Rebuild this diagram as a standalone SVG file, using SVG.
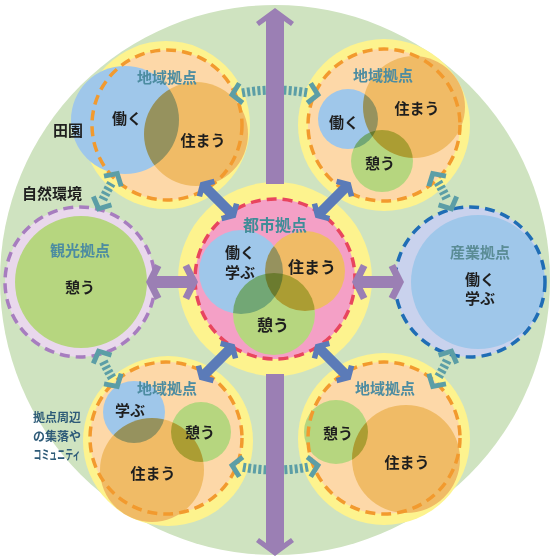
<svg xmlns="http://www.w3.org/2000/svg" width="550" height="559" viewBox="0 0 550 559">
<defs>
<style>
text{font-family:"Noto Sans CJK JP","Noto Sans CJK SC",sans-serif;font-weight:700;text-anchor:middle}
.t{fill:#4c8ca1;font-size:15px}
.tc{fill:#3f8d98;font-size:16px}
.l{fill:#1e1e1e;font-size:15px}
.lc{fill:#1e1e1e;font-size:16px}
.s{fill:#2e5b78;font-size:12px}
.ring{fill:#fdf38e}
.area{fill:#fdd8a8}
.dash{fill:none;stroke:#f29a2e;stroke-width:3.5;stroke-dasharray:10 6}
.b{fill:#9fc7ea}
.o{fill:#f0bb66}
.g{fill:#b6d67f}
.mix{isolation:isolate}
.mix circle{mix-blend-mode:multiply}
.dot{fill:none;stroke:#5c9ea6;stroke-width:9;stroke-dasharray:3 2.2;marker-start:url(#chev);marker-end:url(#chev)}
.ba{fill:#5b7bb8}
.pa{fill:#9b7fb4}
</style>
<marker id="chev" markerUnits="userSpaceOnUse" markerWidth="30" markerHeight="30" viewBox="-5 -15 30 30" refX="0" refY="0" orient="auto-start-reverse" overflow="visible">
<path d="M 1 -10 L 10 0 L 1 10" fill="none" stroke="#5c9ea6" stroke-width="5"/>
</marker>
<path id="blueArrow" d="M -15.7 -5 L 15.7 -5 L 13.3 -9.2 L 18 -12 L 25 0 L 18 12 L 13.3 9.2 L 15.7 5 L -15.7 5 L -13.3 9.2 L -18 12 L -25 0 L -18 -12 L -13.3 -9.2 Z"/>
<path id="purpleArrow" d="M -15.2 -6 L 15.2 -6 L 10.7 -14.9 L 17 -18 L 26 0 L 17 18 L 10.7 14.9 L 15.2 6 L -15.2 6 L -10.7 14.9 L -17 18 L -26 0 L -17 -18 L -10.7 -14.9 Z"/>
</defs>

<g id="background">
<circle cx="275" cy="280" r="275" fill="#cfe3c0"/>
</g>

<g id="node-top-left">
<circle class="ring" cx="166" cy="125" r="84"/>
<circle class="area" cx="167" cy="125" r="75"/>
<g class="mix">
<circle class="b" cx="125" cy="120" r="54"/>
<circle class="o" cx="196" cy="134" r="52"/>
</g>
<circle class="dash" cx="167" cy="125" r="75"/>
<text class="t" x="167" y="82.5">地域拠点</text>
<text class="l" x="127" y="123.5">働く</text>
<text class="l" x="203" y="145.5">住まう</text>
</g>

<g id="node-top-right">
<circle class="ring" cx="384" cy="125" r="86"/>
<circle class="area" cx="384" cy="125" r="76"/>
<g class="mix">
<circle class="b" cx="348" cy="119" r="30"/>
<circle class="o" cx="414" cy="107" r="51"/>
<circle class="g" cx="382" cy="161" r="31"/>
</g>
<circle class="dash" cx="384" cy="125" r="76"/>
<text class="t" x="383" y="80.5">地域拠点</text>
<text class="l" x="344" y="127.5">働く</text>
<text class="l" x="417" y="113.5">住まう</text>
<text class="l" x="380" y="168.5">憩う</text>
</g>

<g id="node-left">
<circle cx="80" cy="282" r="75" fill="#e9d8ec"/>
<circle class="g" cx="81" cy="282" r="66"/>
<circle cx="80" cy="282" r="75" fill="none" stroke="#a77dbf" stroke-width="3.5" stroke-dasharray="10 6"/>
<text class="t" x="80" y="255.5">観光拠点</text>
<text class="l" x="80" y="292.5">憩う</text>
</g>

<g id="node-right">
<circle cx="470" cy="282" r="75" fill="#c9d2ed"/>
<circle class="b" cx="478" cy="282" r="67"/>
<circle cx="470" cy="282" r="75" fill="none" stroke="#1f6db5" stroke-width="3.5" stroke-dasharray="10 6"/>
<text class="t" x="480" y="257.5" style="fill:#5a8c95">産業拠点</text>
<text class="l" x="480" y="285">働く</text>
<text class="l" x="480" y="304">学ぶ</text>
</g>

<g id="node-bottom-left">
<circle class="ring" cx="168" cy="441" r="85"/>
<circle class="area" cx="166" cy="438" r="76"/>
<g class="mix">
<circle class="b" cx="134" cy="412" r="31"/>
<circle class="g" cx="201" cy="432" r="30"/>
<circle class="o" cx="152" cy="470" r="52"/>
</g>
<circle class="dash" cx="166" cy="438" r="76"/>
<text class="t" x="167" y="393.5">地域拠点</text>
<text class="l" x="130" y="415.5">学ぶ</text>
<text class="l" x="200" y="437.5">憩う</text>
<text class="l" x="153" y="478.5">住まう</text>
</g>

<g id="node-bottom-right">
<circle class="ring" cx="384" cy="439" r="86"/>
<circle class="area" cx="384" cy="438" r="76"/>
<g class="mix">
<circle class="g" cx="336" cy="432" r="32"/>
<circle class="o" cx="406" cy="459" r="54"/>
</g>
<circle class="dash" cx="384" cy="438" r="76"/>
<text class="t" x="385" y="393.5">地域拠点</text>
<text class="l" x="338" y="438.5">憩う</text>
<text class="l" x="407" y="467.5">住まう</text>
</g>

<g id="node-center">
<circle class="ring" cx="275" cy="279" r="97"/>
<circle cx="275" cy="279" r="80" fill="#f4a0c6"/>
<g class="mix">
<circle class="b" cx="241" cy="272" r="42"/>
<circle class="o" cx="305" cy="271" r="40"/>
<circle class="g" cx="274" cy="314" r="41"/>
</g>
<circle cx="275" cy="279" r="80" fill="none" stroke="#e8455e" stroke-width="3.5" stroke-dasharray="10 6"/>
<text class="tc" x="275" y="231">都市拠点</text>
<text class="l" x="240" y="257.5">働く</text>
<text class="l" x="240" y="277.5">学ぶ</text>
<text class="lc" x="312" y="273">住まう</text>
<text class="lc" x="273" y="331">憩う</text>
</g>

<g id="connectors">
<path class="dot" d="M 242 92.9 A 190 190 0 0 1 308 92.9"/>
<path class="dot" d="M 308 467.1 A 190 190 0 0 1 242 467.1"/>
<path class="dot" d="M 102.8 199.7 A 190 190 0 0 1 112.1 182.1"/>
<path class="dot" d="M 112.1 377.9 A 190 190 0 0 1 102.8 360.3"/>
<path class="dot" d="M 447.2 360.3 A 190 190 0 0 1 437.9 377.9"/>
<path class="dot" d="M 437.9 182.1 A 190 190 0 0 1 447.2 199.7"/>
<path class="pa" d="M 266 184 L 266 20.9 L 259 26 L 256 22 L 275 8 L 294 22 L 291 26 L 284 20.9 L 284 184 Z"/>
<path class="pa" d="M 266 374 L 266 543.1 L 259 538 L 256 542 L 275 556 L 294 542 L 291 538 L 284 543.1 L 284 374 Z"/>
<use href="#blueArrow" class="ba" transform="translate(218 200) rotate(45)"/>
<use href="#blueArrow" class="ba" transform="translate(333 200) rotate(-45)"/>
<use href="#blueArrow" class="ba" transform="translate(217 362) rotate(-45)"/>
<use href="#blueArrow" class="ba" transform="translate(333 362) rotate(45)"/>
<use href="#purpleArrow" class="pa" transform="translate(172 282)"/>
<use href="#purpleArrow" class="pa" transform="translate(378 282)"/>
</g>

<g id="labels">
<text class="l" x="68" y="135.5">田園</text>
<text class="l" x="52" y="198.5">自然環境</text>
<text class="s" x="57" y="422">拠点周辺</text>
<text class="s" x="57" y="441">の集落や</text>
<text class="s" x="57" y="459" style="font-size:13px" textLength="47" lengthAdjust="spacingAndGlyphs">コミュニティ</text>
</g>
</svg>
